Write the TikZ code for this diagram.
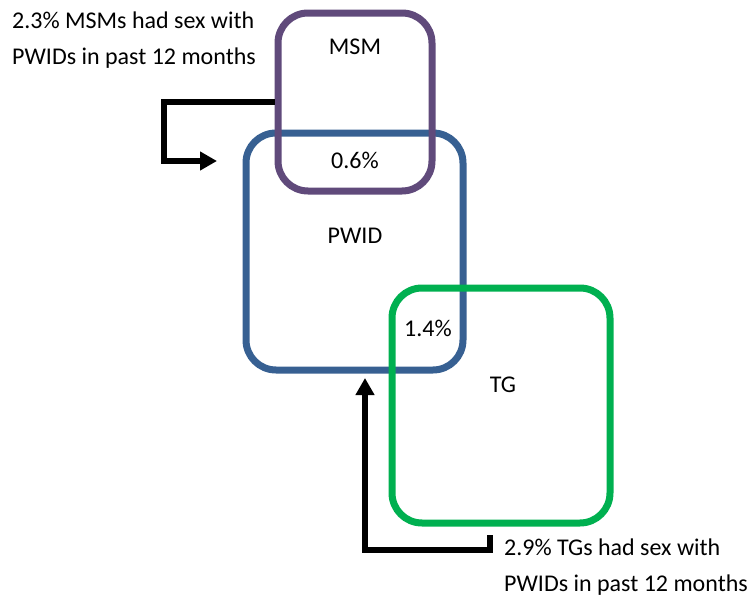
\documentclass[tikz,border=0pt]{standalone}
\usepackage{fontspec}
\setmainfont{Carlito}
\usetikzlibrary{arrows.meta}
\definecolor{msmcol}{HTML}{604A7B}
\definecolor{pwidcol}{HTML}{376092}
\definecolor{tgcol}{HTML}{00B050}
\tikzset{
  setbox/.style={draw=#1, line width=7pt, rounded corners=30pt, rectangle, inner sep=0pt},
  lbl/.style={font=\fontsize{24}{28}\selectfont, inner sep=0pt},
  note/.style={font=\fontsize{24}{36}\selectfont, align=left, inner sep=0pt, anchor=west},
  conn/.style={line width=6pt, -{Triangle[length=17pt,width=18pt]}}
}
\begin{document}
\begin{tikzpicture}[x=1pt,y=-1pt]
\useasboundingbox (0,0) rectangle (748,597);
\node[setbox=pwidcol, minimum width=217pt, minimum height=237pt] (pwid) at (354.5,251.5) {};
\node[setbox=tgcol, minimum width=218pt, minimum height=235pt] (tg) at (501,405.5) {};
\node[setbox=msmcol, minimum width=154pt, minimum height=178pt] (msm) at (355,102) {};
\node[lbl] (lmsm) at (355,47) {MSM};
\node[lbl] (l06) at (355,160) {0.6\%};
\node[lbl] (lpwid) at (355,236) {PWID};
\node[lbl] (l14) at (428,328) {1.4\%};
\node[lbl] (ltg) at (503,385) {TG};
\node[note] (t1) at (12,40) {2.3\% MSMs had sex with\\PWIDs in past 12 months};
\node[note] (t2) at (504,567) {2.9\% TGs had sex with\\PWIDs in past 12 months};
\coordinate (a1) at (217,161);
\coordinate (b0) at (490,535);
\coordinate (b1) at (365,378);
\draw[conn] (msm.west) -- (164,102) -- (164,161) -- (a1);
\draw[conn] (b0) -- (490,550) -- (365,550) -- (b1);
\end{tikzpicture}
\end{document}
